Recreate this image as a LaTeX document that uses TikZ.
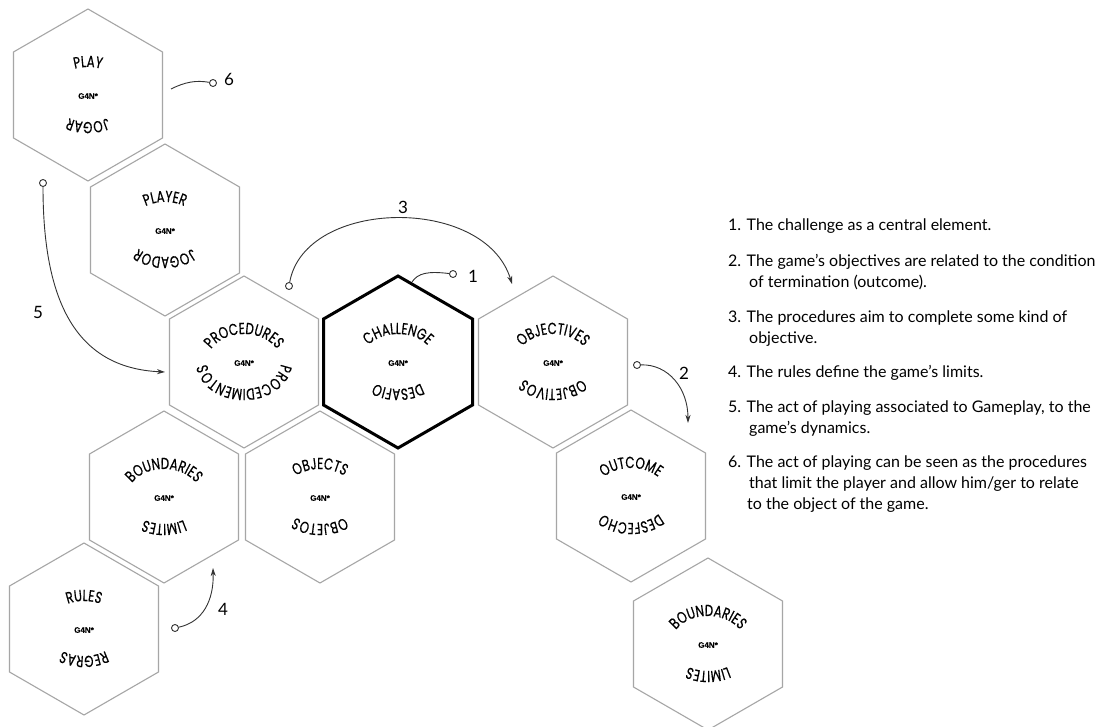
\documentclass[tikz,border=0pt]{standalone}
\usepackage{fontspec}
\setmainfont{Lato}
\newfontfamily\hexfamily[FakeStretch=0.74,FakeBold=0.5]{Poppins}
\newfontfamily\gfamily[FakeBold=0.6]{Liberation Sans}
\usetikzlibrary{decorations.text,arrows.meta,calc}
\definecolor{hexgray}{HTML}{A6A6A6}
\definecolor{linegray}{HTML}{333333}
\newcommand\hexfnt{\hexfamily\fontsize{16}{18}\selectfont}
\newcommand\gfnt{\gfamily\bfseries\fontsize{8}{9}\selectfont}
\newcommand\legfnt{\fontsize{16}{21}\selectfont}
\newcommand\numfnt{\fontsize{17}{20}\selectfont}
\tikzset{
  hexline/.style={draw=hexgray,line width=1.1pt,line join=miter},
  hexbold/.style={draw=black,line width=3pt,line join=miter},
  conn/.style={draw=linegray,line width=0.9pt},
  arr/.style={conn,-{Stealth[length=8pt,width=5pt,inset=2.5pt]}},
  dotc/.style={circle,draw=linegray,line width=0.9pt,fill=white,inner sep=0pt,minimum size=7pt},
  numlabel/.style={font=\numfnt,inner sep=0pt},
  legend/.style={font=\legfnt,inner sep=0pt,anchor=base west,align=left},
  pics/hexcell/.style n args={3}{code={
    \path[#3] (0,-86) -- (74.5,-43) -- (74.5,43) -- (0,86) -- (-74.5,43) -- (-74.5,-43) -- cycle;
    \coordinate (-c) at (0,0);
    \path[decorate,decoration={text along path,text align=center,text={|\hexfnt|#1}}]
      (-37,0) arc[start angle=180,end angle=0,x radius=37pt,y radius=28pt];
    \path[decorate,decoration={text along path,text align=center,text={|\hexfnt|#2}}]
      (37,0) arc[start angle=0,end angle=-180,x radius=37pt,y radius=27pt];
    \node[font=\gfnt,inner sep=0pt] (-g) at (0,1) {G4N*};
  }}
}
\begin{document}
\begin{tikzpicture}[x=1pt,y=-1pt]
\fill[white] (0,0) rectangle (1111,727);
\useasboundingbox (0,0) rectangle (1111,727);

\pic (play)   at (88,95)   {hexcell={PLAY}{JOGAR}{hexline}};
\pic (player) at (165,230) {hexcell={PLAYER}{JOGADOR}{hexline}};
\pic (proc)   at (244,362) {hexcell={PROCEDURES}{PROCEDIMENTOS}{hexline}};
\pic (chal)   at (398,362) {hexcell={CHALLENGE}{DESAFIO}{hexbold}};
\pic (obj)    at (553,362) {hexcell={OBJECTIVES}{OBJETIVOS}{hexline}};
\pic (bound)  at (164,497) {hexcell={BOUNDARIES}{LIMITES}{hexline}};
\pic (objs)   at (320,497) {hexcell={OBJECTS}{OBJETOS}{hexline}};
\pic (out)    at (631,496) {hexcell={OUTCOME}{DESFECHO}{hexline}};
\pic (rules)  at (84,629)  {hexcell={RULES}{REGRAS}{hexline}};
\pic (bound2) at (708,644) {hexcell={BOUNDARIES}{LIMITES}{hexline}};

% connector 1
\node[dotc] (c1) at (453,274) {};
\draw[conn] ($(chal-c)+(14,-80)$) .. controls (418,273) and (428,271) .. (c1);
\node[numlabel] (n1) at (473,276) {1};
% connector 6
\node[dotc] (c6) at (213,83) {};
\draw[conn] ($(play-c)+(83,-6)$) .. controls (185,82) and (196,80) .. (c6);
\node[numlabel] (n6) at (229,79) {6};
% connector 3
\node[dotc] (c3) at (289,286) {};
\draw[arr] (c3) .. controls (305,198) and (485,195) .. ($(obj-c)+(-41,-78)$);
\node[numlabel] (n3) at (403,207) {3};
% connector 2
\node[dotc] (c2) at (637,365) {};
\draw[arr] (c2) .. controls (668,364) and (688,388) .. ($(out-c)+(57,-73)$);
\node[numlabel] (n2) at (684,373) {2};
% connector 4
\node[dotc] (c4) at (175,628) {};
\draw[arr] (c4) .. controls (203,622) and (214,600) .. ($(bound-c)+(49,71)$);
\node[numlabel] (n4) at (223,609) {4};
% connector 5
\node[dotc] (c5) at (43,183) {};
\draw[arr] (c5) .. controls (43,300) and (75,368) .. ($(proc-c)+(-79,10)$);
\node[numlabel] (n5) at (38,312) {5};

% legend
\node[legend] (l1) at (728,231) {1. The challenge as a central element.};
\node[legend] (l2) at (728,267) {\begin{tabular}[t]{@{}l@{}}2. The game's objectives are related to the condition\\\hspace{21pt}of termination (outcome).\end{tabular}};
\node[legend] (l3) at (728,323) {\begin{tabular}[t]{@{}l@{}}3. The procedures aim to complete some kind of\\\hspace{21pt}objective.\end{tabular}};
\node[legend] (l4) at (728,377) {4. The rules define the game's limits.};
\node[legend] (l5) at (728,412) {\begin{tabular}[t]{@{}l@{}}5. The act of playing associated to Gameplay, to the\\\hspace{21pt}game's dynamics.\end{tabular}};
\node[legend] (l6) at (728,467) {\begin{tabular}[t]{@{}l@{}}6. The act of playing can be seen as the procedures\\\hspace{21pt}that limit the player and allow him/ger to relate\\\hspace{19pt}to the object of the game.\end{tabular}};
\end{tikzpicture}
\end{document}
